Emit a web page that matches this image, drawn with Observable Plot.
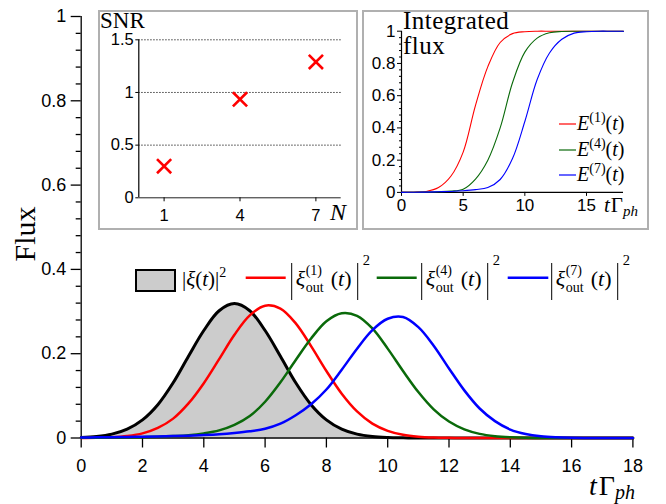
<!DOCTYPE html>
<html>
<head>
<meta charset="utf-8">
<script src="https://cdn.jsdelivr.net/npm/d3@7"></script>
<script src="https://cdn.jsdelivr.net/npm/@observablehq/plot@0.6"></script>
<style>
  html, body { margin: 0; padding: 0; background: #fff; }
  #wrap { position: relative; width: 666px; height: 504px; overflow: hidden; }
  #wrap > * { position: absolute; }
  .frame { border: 2px solid #b0b0b0; box-sizing: border-box; pointer-events: none; }
</style>
</head>
<body>
<div id="wrap"></div>
<script>
// ---------- main panel data: time samples and pulse fluxes ----------
const tGrid = [0,0.5,1,1.5,2,2.5,3,3.5,4,4.5,5,5.5,6,6.5,7,7.5,8,8.5,9,9.5,10,10.5,11,11.5,12,12.5,13,13.5,14,14.5,15,15.5,16,16.5,17,17.5,18];
const xiSq = [0.0012,0.0035,0.0091,0.021,0.043,0.079,0.131,0.194,0.255,0.302,0.319,0.302,0.255,0.194,0.131,0.079,0.043,0.021,0.0091,0.0035,0.0012,0.0004,0.0001,0,0,0,0,0,0,0,0,0,0,0,0,0,0];
const out1 = [0.0002,0.0006,0.0018,0.0048,0.011,0.024,0.046,0.082,0.130,0.187,0.245,0.291,0.314,0.307,0.272,0.218,0.159,0.105,0.063,0.034,0.017,0.0076,0.0031,0.0011,0.0004,0.0001,0,0,0,0,0,0,0,0,0,0,0];
const out4 = [0.0005,0.0007,0.001,0.0015,0.002,0.003,0.0045,0.0067,0.011,0.018,0.031,0.052,0.086,0.132,0.185,0.236,0.277,0.296,0.290,0.260,0.212,0.159,0.109,0.068,0.039,0.0205,0.0098,0.0043,0.0017,0.0006,0.0002,0.0001,0,0,0,0,0];
const out7 = [0.001,0.0015,0.002,0.0025,0.003,0.0035,0.0045,0.0055,0.007,0.009,0.012,0.016,0.022,0.034,0.054,0.080,0.115,0.162,0.212,0.256,0.283,0.287,0.263,0.219,0.165,0.113,0.070,0.040,0.020,0.0094,0.0039,0.0015,0.0005,0.0002,0.0001,0,0];
const xMajorTicks = [0,2,4,6,8,10,12,14,16,18];
const yMajorTicks = [0,0.2,0.4,0.6,0.8,1];
const yMinorTicks = [0.04,0.08,0.12,0.16,0.24,0.28,0.32,0.36,0.44,0.48,0.52,0.56,0.64,0.68,0.72,0.76,0.84,0.88,0.92,0.96];

// ---------- SNR inset ----------
const snrN = [1,4,7];
const snrVal = [0.30,0.935,1.29];
const snrXTicks = [1,4,7];
const snrYTicks = [0,0.5,1,1.5];
const snrGrid = [0.5,1,1.5];

// ---------- integrated flux inset ----------
const tInt = [0,1,2,3,4,5,6,7,8,9,10,11,12,13,14,15,16,17,18];
const E1 = [0,0.001,0.006,0.03,0.10,0.25,0.54,0.78,0.93,0.985,0.997,1,1,1,1,1,1,1,1];
const E4 = [0,0.001,0.002,0.004,0.008,0.02,0.083,0.20,0.40,0.68,0.87,0.957,0.99,0.998,1,1,1,1,1];
const E7 = [0,0.001,0.002,0.004,0.006,0.01,0.017,0.03,0.08,0.21,0.44,0.70,0.865,0.95,0.988,0.997,1,1,1];
const fluxXTicks = [0,5,10,15];
const fluxYTicks = [0,0.2,0.4,0.6,0.8,1];
const fluxMinor = [0.04,0.08,0.12,0.16,0.24,0.28,0.32,0.36,0.44,0.48,0.52,0.56,0.64,0.68,0.72,0.76,0.84,0.88,0.92,0.96];

const RED = "#ff0000", GREEN = "#0a6a0a", BLUE = "#0000ff";
const fmt = d => String(d);
const curve = "catmull-rom";
const sans = "'Liberation Sans', Arial, Helvetica, sans-serif";
const wrap = document.getElementById("wrap");

// ---------- main chart ----------
const rows = tGrid.map((t, i) => ({t, xi: xiSq[i], o1: out1[i], o4: out4[i], o7: out7[i]}));
const main = Plot.plot({
  width: 666, height: 504,
  marginLeft: 80.7, marginRight: 33.6, marginTop: 16, marginBottom: 66.5,
  style: {fontFamily: sans, fontSize: "18px", color: "#000", background: "transparent", overflow: "visible"},
  x: {domain: [0, 18], label: null},
  y: {domain: [0, 1], label: null},
  marks: [
    Plot.areaY(rows, {x: "t", y: "xi", fill: "#cccccc", curve}),
    Plot.axisY(yMinorTicks, {tickSize: 5, tickFormat: () => "", strokeWidth: 1.3}),
    Plot.axisY(yMajorTicks, {tickSize: 10, tickPadding: 5, tickFormat: fmt, strokeWidth: 1.3}),
    Plot.axisX(xMajorTicks, {tickSize: 10, tickPadding: 11, tickFormat: fmt, strokeWidth: 1.3}),
    Plot.ruleX([0], {strokeWidth: 1.3}),
    Plot.ruleY([0], {strokeWidth: 1.3}),
    Plot.lineY(rows, {x: "t", y: "xi", stroke: "#000", strokeWidth: 3, curve}),
    Plot.lineY(rows, {x: "t", y: "o1", stroke: RED, strokeWidth: 2.5, curve}),
    Plot.lineY(rows, {x: "t", y: "o4", stroke: GREEN, strokeWidth: 2.5, curve}),
    Plot.lineY(rows, {x: "t", y: "o7", stroke: BLUE, strokeWidth: 2.5, curve})
  ]
});
main.style.left = "0px"; main.style.top = "0px";
wrap.appendChild(main);

// ---------- SNR inset ----------
const snrRows = snrN.map((n, i) => ({n, v: snrVal[i]}));
const snr = Plot.plot({
  width: 260, height: 220,
  marginLeft: 40.3, marginRight: 17.3, marginTop: 29.3, marginBottom: 32.7,
  style: {fontFamily: sans, fontSize: "16.5px", color: "#000", background: "#fff", overflow: "visible"},
  x: {domain: [0, 8], label: null},
  y: {domain: [0, 1.5], label: null},
  marks: [
    Plot.ruleY(snrGrid, {stroke: "#222", strokeWidth: 1, strokeDasharray: "1.3,1.7"}),
    Plot.ruleY([0], {stroke: "#222", strokeWidth: 1}),
    Plot.ruleX([0], {stroke: "#000", strokeWidth: 1.2}),
    Plot.axisX(snrXTicks, {tickSize: 4, tickPadding: 7, tickFormat: fmt}),
    Plot.axisY(snrYTicks, {tickSize: 3, tickPadding: 2, tickFormat: fmt}),
    Plot.dot(snrRows, {x: "n", y: "v", symbol: "times", stroke: RED, strokeWidth: 2.6, r: 6.5})
  ]
});
snr.style.left = "98px"; snr.style.top = "10px";
wrap.appendChild(snr);

// ---------- integrated flux inset ----------
const fluxRows = tInt.map((t, i) => ({t, e1: E1[i], e4: E4[i], e7: E7[i]}));
const flux = Plot.plot({
  width: 287, height: 220,
  marginLeft: 39, marginRight: 26, marginTop: 20.7, marginBottom: 38.1,
  style: {fontFamily: sans, fontSize: "17px", color: "#000", background: "#fff", overflow: "visible"},
  x: {domain: [0, 18], label: null},
  y: {domain: [0, 1], label: null},
  marks: [
    Plot.axisY(fluxMinor, {tickSize: 2, tickFormat: () => ""}),
    Plot.axisY(fluxYTicks, {tickSize: 4, tickPadding: 2, tickFormat: fmt}),
    Plot.axisX(fluxXTicks, {tickSize: 4, tickPadding: 3, tickFormat: fmt}),
    Plot.ruleX([0], {strokeWidth: 1.2}),
    Plot.ruleY([0], {strokeWidth: 1.2}),
    Plot.lineY(fluxRows, {x: "t", y: "e1", stroke: RED, strokeWidth: 1.1, curve}),
    Plot.lineY(fluxRows, {x: "t", y: "e4", stroke: GREEN, strokeWidth: 1.1, curve}),
    Plot.lineY(fluxRows, {x: "t", y: "e7", stroke: BLUE, strokeWidth: 1.1, curve})
  ]
});
flux.style.left = "362px"; flux.style.top = "10px";
wrap.appendChild(flux);

// ---------- inset frames ----------
for (const [l, t, w, h] of [[98, 10, 260, 220], [362, 10, 287, 220]]) {
  const f = document.createElement("div");
  f.className = "frame";
  Object.assign(f.style, {left: l + "px", top: t + "px", width: w + "px", height: h + "px"});
  wrap.appendChild(f);
}

// ---------- text, math labels and legends ----------
const it = s => `<tspan font-style="italic">${s}</tspan>`;
function outItem(b, k, color, x0, x1) {
  return `
  <line x1="${x0}" x2="${x1}" y1="277.7" y2="277.7" stroke="${color}" stroke-width="2.5"/>
  <line x1="${b}" x2="${b}" y1="263" y2="300" stroke="#000" stroke-width="1"/>
  <text x="${b + 4}" y="286" font-size="22">${it("ξ")}</text>
  <text x="${b + 14}" y="275" font-size="14">(${k})</text>
  <text x="${b + 14}" y="292" font-size="14">out</text>
  <text x="${b + 39}" y="286" font-size="22">(${it("t")})</text>
  <line x1="${b + 66}" x2="${b + 66}" y1="263" y2="300" stroke="#000" stroke-width="1"/>
  <text x="${b + 71}" y="265" font-size="14.5">2</text>`;
}
function eItem(y, k, color) {
  return `
  <line x1="559" x2="576" y1="${y}" y2="${y}" stroke="${color}" stroke-width="1.2"/>
  <text x="577" y="${y + 5.5}" font-size="20">${it("E")}<tspan font-size="14" dy="-8">(${k})</tspan><tspan dy="8">(</tspan>${it("t")})</text>`;
}
const overlay = `
<svg xmlns="http://www.w3.org/2000/svg" width="666" height="504" style="left:0;top:0;pointer-events:none" font-family="'Liberation Serif', 'Times New Roman', serif" fill="#000">
  <text transform="translate(35,234) rotate(-90)" text-anchor="middle" font-size="30">Flux</text>
  <text x="589" y="495" font-size="28">${it("t")}<tspan dx="2">Γ</tspan><tspan font-style="italic" font-size="20" dy="4">ph</tspan></text>
  <text x="100" y="28" font-size="23">SNR</text>
  <text x="330" y="220" font-size="24" font-style="italic">N</text>
  <text x="403" y="29" font-size="25" letter-spacing="0.5">Integrated</text>
  <text x="403" y="54" font-size="25" letter-spacing="0.5">flux</text>
  <text x="604" y="212" font-size="21">${it("t")}<tspan dx="1">Γ</tspan><tspan font-style="italic" font-size="15" dy="4">ph</tspan></text>
  ${eItem(124, 1, RED)}
  ${eItem(150, 4, GREEN)}
  ${eItem(175, 7, BLUE)}
  <rect x="136" y="270" width="39" height="21" fill="#cccccc" stroke="#000" stroke-width="2"/>
  <text x="182" y="286" font-size="21">|${it("ξ")}(${it("t")})|<tspan font-size="14" dy="-9">2</tspan></text>
  ${outItem(291.7, 1, RED, 245.7, 285.7)}
  ${outItem(421.7, 4, GREEN, 376.7, 416.7)}
  ${outItem(551.7, 7, BLUE, 507.7, 548.3)}
</svg>`;
wrap.insertAdjacentHTML("beforeend", overlay);
</script>
</body>
</html>
